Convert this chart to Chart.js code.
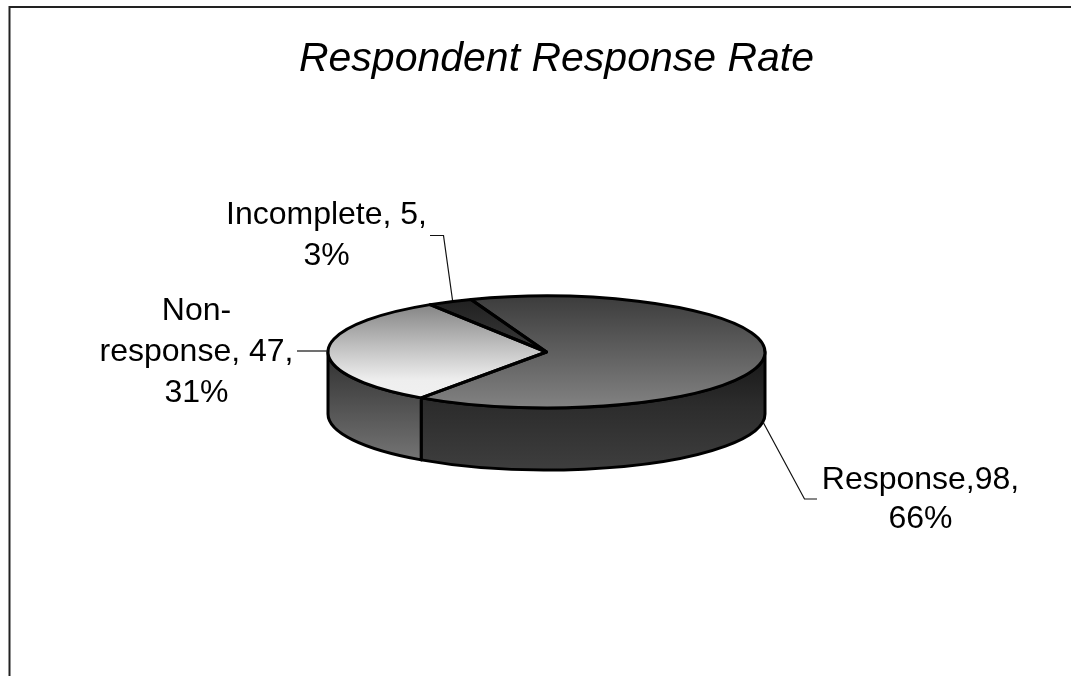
<!DOCTYPE html>
<html>
<head>
<meta charset="utf-8">
<title>Respondent Response Rate</title>
<style>
  html, body { margin: 0; padding: 0; background: #fff; overflow: hidden; }
  canvas { display: block; }
</style>
<script src="https://cdn.jsdelivr.net/npm/chart.js@4"></script>
</head>
<body>
<canvas id="chart" width="1071" height="676"></canvas>
<script>
const chartTitle = 'Respondent Response Rate';
const categories = ['Response', 'Non-response', 'Incomplete'];
const counts = [98, 47, 5];
const percents = ['66%', '31%', '3%'];

// Callout text, one list of lines per slice; the percentage is always last.
const calloutLines = [
  ['Response,98,', percents[0]],
  ['Non-', 'response, 47,', percents[1]],
  ['Incomplete, 5,', percents[2]]
];
// Centre x and middle y of each callout's first line, plus line step.
const calloutAnchors = [
  { x: 920.5, y: 480, step: 39.5 },
  { x: 196.5, y: 311, step: 41 },
  { x: 326.5, y: 215, step: 41.5 }
];
const leaderPaths = [
  [[763, 422], [804.5, 499], [817, 499]],
  [[328, 351], [297, 351]],
  [[452.5, 300], [443.5, 235.5], [430, 235.5]]
];

// Pie tilt: ratio of vertical to horizontal radius, and rim height in pixels.
const TILT = 56 / 218.5;
const RIM = 62;
const PEN = 3;
const TITLE_CENTER = 556.5;

function faceGradient(ctx, top, bottom, stops) {
  // Gradient is declared in untilted circle space, the tilt transform squashes it.
  const g = ctx.createLinearGradient(0, top, 0, bottom);
  stops.forEach(([at, c]) => g.addColorStop(at, c));
  return g;
}

const faceStops = [
  [[0, '#3c3c3c'], [1, '#828282']],
  [[0.08, '#858585'], [0.45, '#c0c0c0'], [0.75, '#eeeeee'], [1, '#f2f2f2']],
  [[0, '#1e1e1e'], [0.5, '#3a3a3a']]
];
const wallStops = [
  [[0, '#161616'], [0.45, '#2c2c2c'], [1, '#3e3e3e']],
  [[0, '#303030'], [1, '#7a7a7a']]
];

const tiltedPie = {
  id: 'tiltedPie',
  beforeDatasetsDraw(chart) {
    const ctx = chart.ctx;
    const arcs = chart.getDatasetMeta(0).data;
    const { x: cx, y: cy, outerRadius: rx } = arcs[0];
    const ry = rx * TILT;

    // Rim: only the part of each slice facing the viewer (0..PI on the canvas).
    arcs.forEach((arc, i) => {
      for (let k = -1; k <= 1; k++) {
        const lo = 2 * Math.PI * k, hi = lo + Math.PI;
        const a = Math.max(arc.startAngle, lo), b = Math.min(arc.endAngle, hi);
        if (b <= a) continue;
        ctx.save();
        ctx.beginPath();
        ctx.ellipse(cx, cy, rx, ry, 0, a, b);
        ctx.ellipse(cx, cy + RIM, rx, ry, 0, b, a, true);
        ctx.closePath();
        ctx.fillStyle = faceGradient(ctx, cy, cy + ry + RIM, wallStops[i] || wallStops[0]);
        ctx.fill();
        ctx.lineWidth = PEN;
        ctx.lineJoin = 'round';
        ctx.strokeStyle = '#000';
        ctx.stroke();
        ctx.restore();
      }
    });

    // Squash the library's own arcs into an ellipse.
    ctx.save();
    ctx.translate(cx, cy);
    ctx.scale(1, TILT);
    ctx.translate(-cx, -cy);
  },
  afterDatasetsDraw(chart) {
    const ctx = chart.ctx;
    ctx.restore();
    const arcs = chart.getDatasetMeta(0).data;
    // Outlines are stroked untransformed so the pen width stays even.
    arcs.forEach(arc => {
      const ry = arc.outerRadius * TILT;
      ctx.save();
      ctx.beginPath();
      ctx.moveTo(arc.x, arc.y);
      ctx.ellipse(arc.x, arc.y, arc.outerRadius, ry, 0, arc.startAngle, arc.endAngle);
      ctx.closePath();
      ctx.lineWidth = PEN;
      ctx.lineJoin = 'round';
      ctx.strokeStyle = '#000';
      ctx.stroke();
      ctx.restore();
    });
  }
};

const callouts = {
  id: 'callouts',
  afterDraw(chart) {
    const ctx = chart.ctx;
    ctx.save();
    ctx.strokeStyle = '#111';
    ctx.lineWidth = 1.2;
    leaderPaths.forEach(path => {
      ctx.beginPath();
      path.forEach(([x, y], i) => (i ? ctx.lineTo(x, y) : ctx.moveTo(x, y)));
      ctx.stroke();
    });
    ctx.fillStyle = '#000';
    ctx.font = "32px 'Liberation Sans', Arial, sans-serif";
    ctx.textAlign = 'center';
    ctx.textBaseline = 'middle';
    calloutLines.forEach((lines, i) => {
      const a = calloutAnchors[i];
      lines.forEach((t, j) => ctx.fillText(t, a.x, a.y + j * a.step));
    });
    ctx.restore();
  }
};

// Page frame: top and left rules only.
const frame = {
  id: 'frame',
  beforeDraw(chart) {
    const ctx = chart.ctx;
    ctx.save();
    ctx.fillStyle = '#fff';
    ctx.fillRect(0, 0, chart.width, chart.height);
    ctx.strokeStyle = '#222';
    ctx.lineWidth = 2;
    ctx.beginPath();
    ctx.moveTo(9.5, 676);
    ctx.lineTo(9.5, 7);
    ctx.lineTo(1071, 7);
    ctx.stroke();
    ctx.restore();
  }
};

// The heading gets the full page width and its own centre, not the pie's box.
const titleBox = {
  id: 'titleBox',
  afterLayout(chart) {
    chart.titleBlock.left = 0;
    chart.titleBlock.right = TITLE_CENTER * 2;
  }
};

const canvas = document.getElementById('chart');
new Chart(canvas, {
  type: 'pie',
  data: {
    labels: categories,
    datasets: [{
      data: counts,
      borderWidth: 0,
      backgroundColor(c) {
        const area = c.chart.chartArea;
        if (!area) return '#888';
        return faceGradient(c.chart.ctx, area.top, area.bottom, faceStops[c.dataIndex]);
      }
    }]
  },
  options: {
    responsive: false,
    animation: false,
    rotation: 339.8,
    layout: { padding: { left: 328, right: 306, top: 0, bottom: 105.5 } },
    plugins: {
      legend: { display: false },
      tooltip: { enabled: false },
      title: {
        display: true,
        text: chartTitle,
        color: '#000',
        font: { family: "'Liberation Sans', Arial, sans-serif", size: 41, style: 'italic', weight: 'normal', lineHeight: 1.2 },
        padding: { top: 35.4, bottom: 48.9 }
      }
    }
  },
  plugins: [frame, tiltedPie, callouts, titleBox]
});
</script>
</body>
</html>
